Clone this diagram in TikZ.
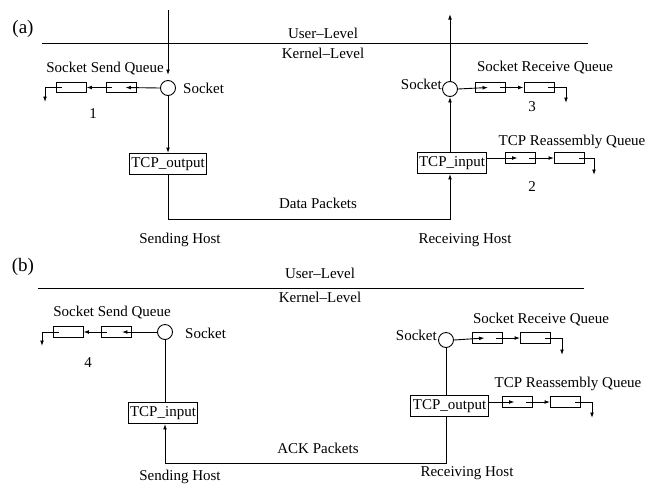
\documentclass[tikz,border=0pt]{standalone}
\usepackage{fontspec}
\setmainfont{Liberation Serif}
\usetikzlibrary{arrows.meta,calc}
\begin{document}
\begin{tikzpicture}[x=1pt,y=-1pt, font=\fontsize{15}{17}\selectfont,
  ln/.style={line width=0.9pt},
  ar/.style={ln,-{Latex[length=5.5pt,width=3.8pt]}},
  qbox/.style={draw,line width=0.9pt,minimum width=30pt,minimum height=10.5pt,inner sep=0pt},
  fbox/.style={draw,line width=0.9pt,minimum height=21pt,inner xsep=2pt,inner ysep=0pt},
  sock/.style={draw,circle,line width=0.9pt,minimum size=15pt,inner sep=0pt},
  lbl/.style={inner sep=0pt},
  plbl/.style={inner sep=0pt,font=\fontsize{19}{21}\selectfont}]
\useasboundingbox (0,0) rectangle (647,483);

% ---------------- panel (a) ----------------
\node[plbl] (pa) at (23,29) {(a)};
\coordinate (la1) at (42,43); \coordinate (la2) at (588,43);
\draw[ln] (la1) -- (la2);
\node[lbl] (ua) at (323,33) {User–Level};
\node[lbl] (ka) at (323,53) {Kernel–Level};

% sending socket
\node[sock] (sa) at (168,88) {};
\node[lbl,anchor=west] (sat) at (183,88) {Socket};
\coordinate (ta) at (168,10);
\coordinate (tae) at (168,75);
\draw[ar] (ta) -- (tae);

% send queue
\node[qbox] (a1) at (121,87.5) {};
\node[qbox] (a2) at (71,87.5) {};
\draw[ar] (sa.west) -- ($(a1.east)+(-11,0)$);
\draw[ln] (a1.west) -- ++(6,0);
\draw[ar] (a1.west) -- (a2.east);
\draw[ln] (a2.west) -- ++(6,0);
\coordinate (ad) at (45,102);
\draw[ar] (a2.west) -| (ad);
\node[lbl] (sqa) at (105,69) {Socket Send Queue};
\node[lbl] (n1) at (93,114) {1};

% TCP_output
\node[fbox] (oa) at (168,164) {TCP\_output};
\draw[ar] (sa.south) -- (oa.north);

% receiving side
\node[sock] (sb) at (450,89) {};
\node[lbl,anchor=east] (sbt) at (442,84) {Socket};
\coordinate (tb) at (450,14);
\draw[ar] (sb.north) -- (tb);
\node[fbox] (ia) at (452,163) {TCP\_input};
\draw[ar] (ia.north -| sb.south) -- (sb.south);

\coordinate (ya) at (0,219);
\draw[ar] (oa.south) -- (oa.south |- ya) -| (ia.south -| sb.south);
\node[lbl] (dp) at (318,203) {Data Packets};
\node[lbl] (sha) at (180,240) {Sending Host};
\node[lbl] (rha) at (465,240) {Receiving Host};

% socket receive queue
\node[qbox] (r1) at (490.5,87.5) {};
\node[qbox] (r2) at (539,87.5) {};
\draw[ar] (sb.east) -- ($(r1.west)+(13,0)$);
\draw[ln] (r1.east) -- ++(-6,0);
\draw[ar] (r1.east) -- (r2.west);
\draw[ln] (r2.east) -- ++(-6,0);
\coordinate (rd) at (566,103);
\draw[ar] (r2.east) -| (rd);
\node[lbl] (rqa) at (545,68) {Socket Receive Queue};
\node[lbl] (n3) at (532,107) {3};

% reassembly queue
\node[qbox] (q1) at (520,158) {};
\node[qbox] (q2) at (569.5,158) {};
\draw[ar] (ia.east |- q1.west) -- ($(q1.west)+(13,0)$);
\draw[ln] (q1.east) -- ++(-6,0);
\draw[ar] (q1.east) -- (q2.west);
\draw[ln] (q2.east) -- ++(-6,0);
\coordinate (qd) at (594,175);
\draw[ar] (q2.east) -| (qd);
\node[lbl] (tra) at (572,142) {TCP Reassembly Queue};
\node[lbl] (n2) at (532,187) {2};

% ---------------- panel (b) ----------------
\node[plbl] (pb) at (23,267) {(b)};
\coordinate (lb1) at (38,288); \coordinate (lb2) at (584,288);
\draw[ln] (lb1) -- (lb2);
\node[lbl] (ub) at (320,273) {User–Level};
\node[lbl] (kb) at (320,297) {Kernel–Level};

% sending host socket
\node[sock] (sc) at (165,332) {};
\node[lbl,anchor=west] (sct) at (185,333) {Socket};
\node[qbox] (b1) at (116.5,332) {};
\node[qbox] (b2) at (68,332) {};
\draw[ar] (sc.west) -- ($(b1.east)+(-10,0)$);
\draw[ln] (b1.west) -- ++(6,0);
\draw[ar] (b1.west) -- (b2.east);
\draw[ln] (b2.west) -- ++(6,0);
\coordinate (bd) at (42,346);
\draw[ar] (b2.west) -| (bd);
\node[lbl] (sqb) at (112,313) {Socket Send Queue};
\node[lbl] (n4) at (88,363) {4};

\node[fbox] (ib) at (163,413) {TCP\_input};
\draw[ln] (sc.south) -- (ib.north -| sc.south);

% receiving host
\node[sock] (sd) at (446,340) {};
\node[lbl,anchor=east] (sdt) at (437,335) {Socket};
\node[fbox] (ob) at (449.5,406) {TCP\_output};
\draw[ln] (sd.south) -- (ob.north -| sd.south);

\coordinate (yb) at (0,463);
\draw[ar] (ob.south -| sd.south) -- (sd.south |- yb) -| (ib.south -| sc.south);
\node[lbl] (ap) at (318,448) {ACK Packets};
\node[lbl] (shb) at (180,477) {Sending Host};
\node[lbl] (rhb) at (467,473) {Receiving Host};

% socket receive queue (b)
\node[qbox] (s1) at (487,338) {};
\node[qbox] (s2) at (535.5,338) {};
\draw[ar] (sd.east) -- ($(s1.west)+(13,0)$);
\draw[ln] (s1.east) -- ++(-6,0);
\draw[ar] (s1.east) -- (s2.west);
\draw[ln] (s2.east) -- ++(-6,0);
\coordinate (sdd) at (562,355);
\draw[ar] (s2.east) -| (sdd);
\node[lbl] (rqb) at (541,320) {Socket Receive Queue};

% reassembly queue (b)
\node[qbox] (p1) at (517,402) {};
\node[qbox] (p2) at (565.5,402) {};
\draw[ar] (ob.east |- p1.west) -- ($(p1.west)+(13,0)$);
\draw[ln] (p1.east) -- ++(-6,0);
\draw[ar] (p1.east) -- (p2.west);
\draw[ln] (p2.east) -- ++(-6,0);
\coordinate (pd) at (592,418);
\draw[ar] (p2.east) -| (pd);
\node[lbl] (trb) at (568,384) {TCP Reassembly Queue};
\end{tikzpicture}
\end{document}
